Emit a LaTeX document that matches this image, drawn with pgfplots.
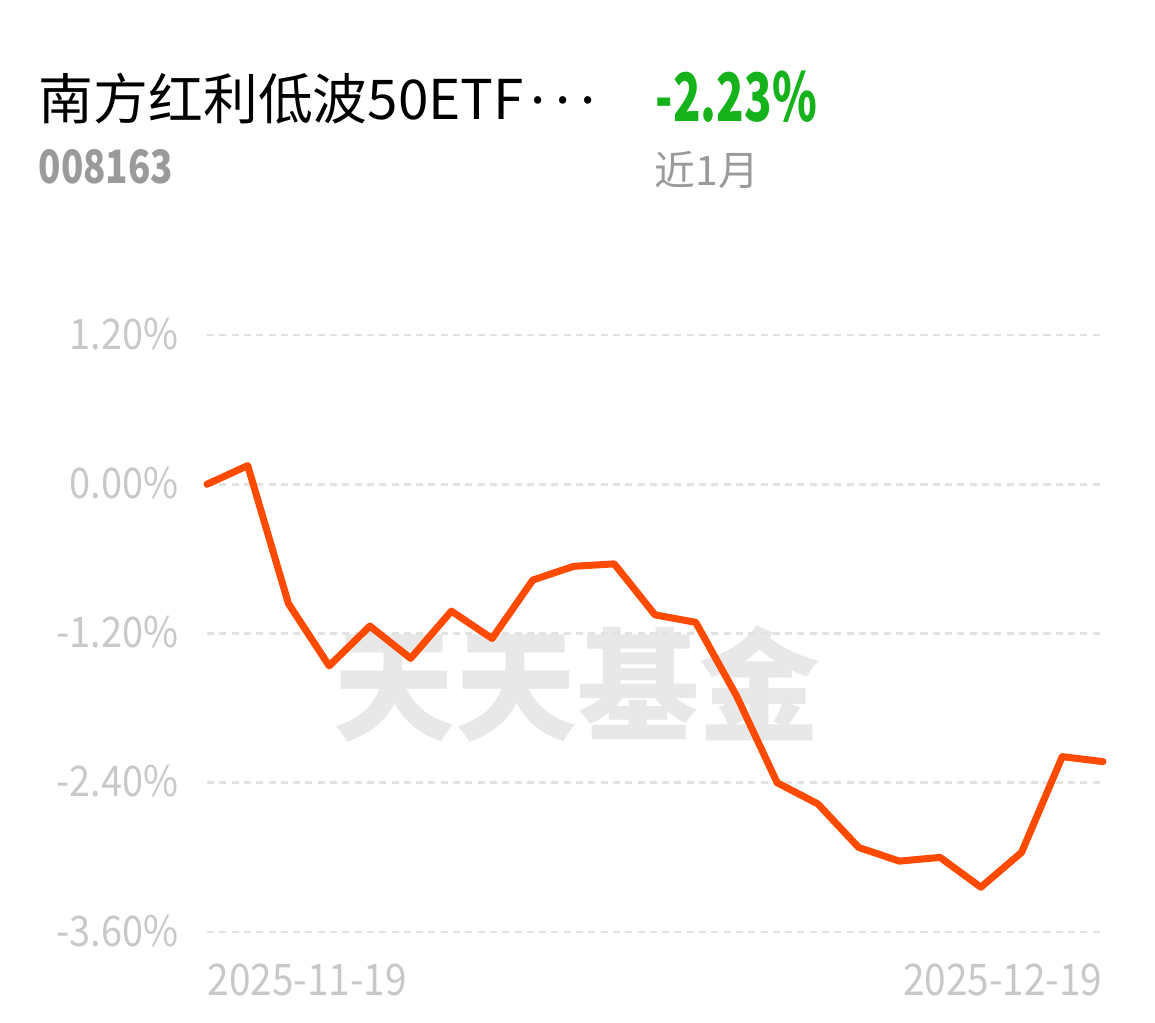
\documentclass[border=0pt]{standalone}
\usepackage{pgfplots}
\pgfplotsset{compat=1.18}
\usepackage{graphicx}
\usepackage{fontspec}
\setmainfont{Noto Sans CJK SC}
\definecolor{lineor}{HTML}{FF4A00}
\definecolor{upgreen}{HTML}{16B21B}
\definecolor{subgray}{HTML}{9A9A9A}
\definecolor{tickgray}{HTML}{C8C8C8}
\definecolor{gridgray}{HTML}{E2E2E2}
\definecolor{wmgray}{HTML}{E8E8E8}
\newcommand{\ys}[1]{\scalebox{0.9}[1]{#1}}
\newcommand{\xs}[1]{\scalebox{0.89}[1]{#1}}
\pgfplotstableread{
x y
0 0.00
1 0.15
2 -0.96
3 -1.46
4 -1.14
5 -1.40
6 -1.02
7 -1.24
8 -0.77
9 -0.66
10 -0.64
11 -1.05
12 -1.11
13 -1.70
14 -2.40
15 -2.57
16 -2.92
17 -3.03
18 -3.00
19 -3.24
20 -2.96
21 -2.19
22 -2.23
}\navdata
\begin{document}
\begin{tikzpicture}
\path[use as bounding box] (0,0) rectangle (11.55cm,-10.22cm);
% header
\node[anchor=base west, inner sep=0pt, font=\fontsize{15.6pt}{18pt}\selectfont] at (0.38cm,-1.20cm) {南方红利低波50ETF\hspace{0.12em}\raisebox{0.3em}{.\hspace{0.18em}.\hspace{0.18em}.}};
\node[anchor=base west, inner sep=0pt, text=subgray, font=\fontsize{13.1pt}{15pt}\selectfont\bfseries] at (0.38cm,-1.83cm) {\scalebox{0.80}[1]{008163}};
\node[anchor=base west, inner sep=0pt, text=upgreen, font=\fontsize{19pt}{22pt}\selectfont\bfseries] at (6.55cm,-1.22cm) {\scalebox{0.68}[1]{-2.23\%}};
\node[anchor=base west, inner sep=0pt, text=subgray, font=\fontsize{11.6pt}{14pt}\selectfont] at (6.54cm,-1.86cm) {近1月};
% watermark
\node[anchor=base, inner sep=0pt, text=wmgray, font=\fontsize{34.7pt}{40pt}\selectfont\bfseries] at (5.77cm,-7.31cm) {天天基金};
\begin{axis}[
  at={(2.07cm,-9.32cm)}, anchor=south west,
  scale only axis, width=8.96cm, height=5.97cm,
  xmin=0, xmax=22, ymin=-3.6, ymax=1.2,
  clip=false,
  axis line style={draw=none},
  major tick length=0pt,
  tick style={draw=none},
  ytick={-3.6,-2.4,-1.2,0,1.2},
  yticklabels={\ys{-3.60\%},\ys{-2.40\%},\ys{-1.20\%},\ys{0.00\%},\ys{1.20\%}},
  yticklabel style={anchor=base east, inner sep=0pt, xshift=-0.28cm, yshift=-0.14cm, text=tickgray, font=\fontsize{12pt}{14pt}\selectfont},
  ymajorgrids,
  grid style={dash pattern=on 2pt off 1.5pt, line width=0.8pt, color=gridgray},
  xtick={0},
  xticklabels={\xs{2025-11-19}},
  xticklabel style={anchor=base west, inner sep=0pt, yshift=-0.63cm, text=tickgray, font=\fontsize{12.4pt}{14pt}\selectfont},
  extra x ticks={22},
  extra x tick labels={\xs{2025-12-19}},
  extra x tick style={grid=none, xticklabel style={anchor=base east}},
]
\addplot[color=lineor, line width=2pt, line join=round, line cap=round, mark=none] table[x=x, y=y] {\navdata};
\end{axis}
\end{tikzpicture}
\end{document}
